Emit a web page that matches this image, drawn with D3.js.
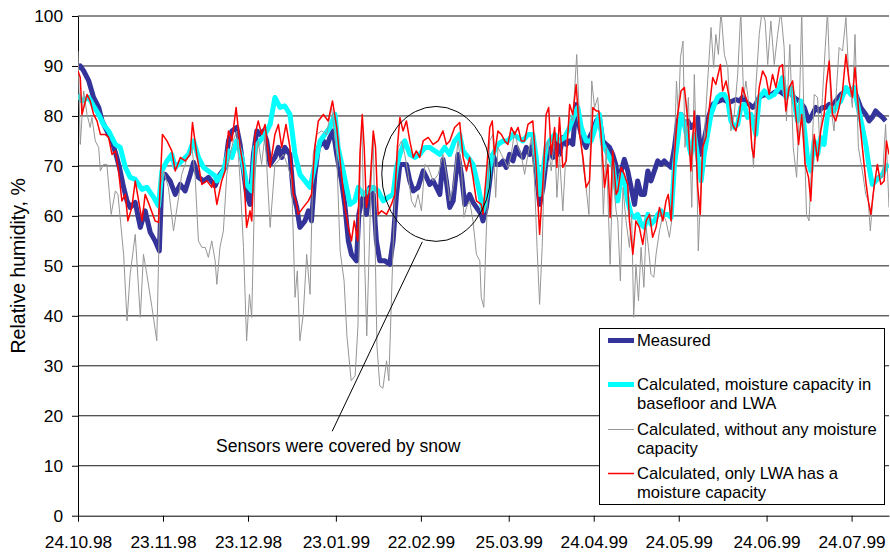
<!DOCTYPE html>
<html>
<head>
<meta charset="utf-8">
<script src="https://cdn.jsdelivr.net/npm/d3@7/dist/d3.min.js"></script>
<style>
  body { margin: 0; background: #fff; }
  svg { display: block; font-family: "Liberation Sans", Arial, sans-serif; }
</style>
</head>
<body>
<svg></svg>
<script>
// days are counted from the first date on the x axis
let startDate = '24.10.98'
let endDay = 286.2
let xTickLabels = ['24.10.98', '23.11.98', '23.12.98', '23.01.99', '22.02.99', '25.03.99', '24.04.99', '24.05.99', '24.06.99', '24.07.99']
let yTickValues = [0, 10, 20, 30, 40, 50, 60, 70, 80, 90, 100]

let seriesNames = ['Measured', 'Calculated, moisture capacity in basefloor and LWA', 'Calculated, without any moisture capacity', 'Calculated, only LWA has a moisture capacity']

let measured = [[0,89.5],[0.8,90],[2,89],[3.8,87],[5.5,83.7],[7.3,81.7],[8.5,79],[10.2,77],[12,75],[13.7,71.7],[14.9,69],[16.1,65.7],[17.3,63],[18.4,61.7],[20.2,62.7],[22,57.7],[23.7,61],[25.5,56.7],[27.2,55],[28.7,53],[29.6,67],[30.8,68.3],[32.5,67],[34.3,64.3],[36.1,66.3],[37.8,65],[39.6,68.3],[40.8,70.7],[42.5,67.7],[44.3,67],[46,67.7],
  [48.4,66],[50.1,68.3],[51.9,69.7],[53.1,75],[54.3,77],[56,77.7],[57.2,74.3],[58.4,69],[59.5,64.3],[60.7,62.3],[61.9,72.3],[63.1,77],[64.2,76.3],[65.4,77],[66.6,75],[67.8,70.3],[69.5,71.7],[70.7,73.7],[71.9,71.7],[73,73.7],[74.8,72.3],[76,64.3],[77.2,61.7],[78.3,57.7],[80.1,59],[81.3,61],[82.4,59],[83.6,68.3],[84.8,73.7],[86.6,75],[87.7,73.7],[88.9,75.7],[90.1,77],[91.3,72.3],[93,67],[94.2,62],
  [95.4,55],[96.5,52.3],[98.3,51],[99.1,60.3],[100.1,63],[101,64.3],[101.8,60.3],[103,65.7],[104.2,64.3],[105.3,55],[106.5,51],[108.3,51],[110,50.3],[111.2,55],[112.4,64.3],[113.6,70.3],[114.7,70.3],[115.9,70.3],[117.1,67],[118.3,65],[120,65.7],[121.8,69],[123,67.7],[124.1,66.3],[125.3,67],[126.5,65.7],[127.7,64.3],[128.8,71.3],[130,67],[131.2,61.7],[132.4,63],[134.1,72.3],[135.3,68.3],[136.5,62.3],[138.2,64.3],[139.4,62.7],[140.6,61.7],[142.3,60.3],
  [142.9,59],[144.1,61.7],[145.3,67],[146.4,72.3],[147.6,70.3],[148.8,70.3],[150,71],[151.1,69.7],[152.3,72.3],[153.5,71],[154.7,73.7],[155.8,72.3],[157,71.7],[158.2,73.7],[159.4,72.3],[160.5,74.3],[161.7,69],[162.9,62.3],[164.1,65.7],[165.2,71],[166.4,73.7],[167.6,71.7],[168.8,75],[169.9,72.3],[171.1,75.7],[172.3,74.3],[173.5,75],[174.6,74.3],[175.8,82.3],[177,77.7],[178.2,75],[179.3,73.7],[180.5,75.7],[181.7,77],[182.9,79],[184,79.7],[185.2,75],[186.4,74.3],[187.6,73.7],[188.7,72.3],[189.9,70],
  [190.5,65.7],[191.7,69],[192.8,71.3],[194,69],[195.2,65.7],[196.4,62.3],[197.5,67],[198.7,64.3],[199.9,64.3],[201.1,69],[202.2,67],[203.4,69],[204.6,71],[205.8,70.3],[206.9,71],[208.1,70.3],[209.3,69.7],[210.5,73.7],[211.6,79],[212.8,80.3],[214,78.3],[215.2,79],[216.3,77.7],[217.5,78.3],[218.7,79.7],[219.6,72.3],[220.4,73.7],[221.6,77],[222.8,80.3],[224,82.3],[225.1,82.7],[226.3,83],[227.5,83.3],[228.7,83],[229.8,82.7],[231,83],[232.2,83.3],[233.4,83],[234.5,83.7],[235.7,82.7],[236.9,82.3],
  [238.1,81.7],[239.2,82.3],[240.4,83.7],[242.2,84.3],[243.9,84],[245.7,84.7],[247.5,85],[249.2,84.3],[251,85],[252.7,83.7],[254.5,83],[256.3,81.7],[257.8,79],[259.2,80.3],[260.4,81.7],[261.6,81],[262.7,81.7],[263.9,81.7],[265.1,82.3],[266.3,81.7],[267.4,83],[269.2,84.3],[271,85],[272.7,85.3],[274.5,84.3],[276.2,81.7],[278,80.3],[279.2,79],[280.3,79.7],[281.5,81],[282.7,80.3],[283.9,79.7],[285,79]]

let calcBoth = [[0,84.3],[1.4,83],[3.8,83.7],[5.5,82],[7.3,80.3],[9,78.3],[10.8,77],[13.2,74.3],[14.9,73.7],[16.7,69.7],[18.4,67.7],[20.2,67.3],[22.6,65.3],[24.3,65.7],[26.7,63.7],[28.4,62],[29.6,69],[31.4,71],[33.1,72.3],[34.3,69.7],[36.6,71],[39,72.3],[40.8,75],[42.5,71.7],[44.3,69.7],[46,69],
  [48.4,68],[49,67],[51.3,69],[53.1,73],[54.3,71.7],[56,75],[57.8,71.7],[59.5,66.3],[61.3,65],[62.5,73.7],[64.2,75],[66,76.3],[67.8,78.3],[69.5,83.7],[71.3,81.7],[73,82],[74.8,80.3],[76.6,72.3],[78.3,68.3],[80.1,67],[81.9,65.7],[83.6,70.3],[85.4,75],[87.1,76.3],[88.9,77.7],[90.7,80.3],[91.8,73.7],[93.6,69],
  [96,62.3],[97.7,63],[98.9,65.7],[100.7,64.3],[102.4,65],[104.2,65.7],[105.9,65],[107.7,63],[109.5,63.7],[111.2,64.3],[112.4,69.7],[113.6,72.3],[115.3,75],[117.1,72.3],[118.9,71.7],[120.6,72.3],[122.4,73.7],[124.1,73.7],[125.9,73],[127.7,72.3],[129.4,73.7],[131.2,72.3],[132.9,75],[134.7,76.3],[135.9,73],[137.7,71.7],[139.4,70.3],[141.2,66],
  [142.9,61],[144.1,63.7],[145.3,69.7],[146.4,72.3],[148.2,74.3],[150,75],[151.7,75],[153.5,76.3],[155.3,75.7],[157,75],[158.8,76.3],[160.5,76.3],[161.7,71.7],[162.9,64.3],[164.1,69],[165.2,73.7],[166.4,75],[168.2,76.3],[169.9,75],[171.7,75.7],[173.5,77.7],[175.2,80.3],[176.4,81.7],[177.6,77.7],[179.3,75],[181.1,75],[182.9,78.3],[184,80.3],[185.2,74.3],[187,72.3],[188.7,70.3],
  [190.5,63],[191.7,68.3],[192.8,67],[194,63],[195.2,60.3],[196.4,59.7],[197.5,60.3],[198.7,58.3],[199.9,57.7],[201.1,60.3],[202.2,58.3],[203.4,59],[204.6,60.3],[205.8,61],[206.9,60.3],[208.1,60.3],[209.3,59.7],[210.5,70.3],[211.6,75],[212.8,80.3],[214,78.3],[215.2,75],[216.3,72.3],[217.5,76.3],[218.7,71.7],[219.9,67],[221,72.3],[222.2,76.3],[223.4,80.3],[224.6,82.3],[225.7,83.7],[226.9,84.3],[228.1,84.3],[229.3,83],[230.4,79],[231.6,77.7],[232.8,78.3],[233.9,81.7],[235.1,82.3],[236.3,79.7],[237.5,80.3],
  [239.2,76.3],[240.4,83.7],[242.2,85],[243.9,83.7],[245.7,84.3],[247.5,85.7],[248.6,87.7],[249.8,83.7],[251.6,85.7],[252.7,83],[253.9,79],[255.1,83],[256.3,77.7],[257.4,71.7],[258.6,69],[259.8,75],[261,72.3],[262.1,75.7],[263.3,74.3],[264.5,80.3],[265.7,81.7],[266.8,81],[268,82.3],[269.2,83],[271,85.7],[272.7,84.3],[273.9,85.7],[275.1,82.3],[276.8,77.7],[278,74.3],[279.2,69.7],[280.3,66.3],[281.5,67],[282.7,67.7],[283.9,68.3],[285,69.7],[286.2,70.3]]

let calcNone = [[0,93],[0.8,74.3],[2,85],[3.2,80.3],[4.3,77.7],[4.9,79.7],[6.1,75],[7.3,73.7],[7.9,69],[9,70.3],[10.2,70.3],[11.7,60.3],[13.2,65],[14.1,64.3],[16.1,52.3],[17.3,39],[18.4,48.3],[20.2,56.3],[22,39.7],[23.1,52.3],[24.3,48.3],[26.1,41.7],[27.8,35],[29,65.7],[30.2,69],[31.9,65.7],[33.7,57],[35.5,63.7],[36.6,68.3],[39,72.3],[40.2,73.7],[41.3,68.3],[42.5,55],[43.7,53.7],[44.9,53.7],[46,51.7],[47.2,55],[48.4,51],
  [49,46.3],[50.1,53.7],[51.3,57],[52.5,68.3],[53.7,72.3],[54.8,75],[56,77],[57.2,67],[58.4,53.7],[59.5,35],[60.5,44.3],[61.3,39.7],[62.5,69],[63.6,75],[64.8,70.3],[66,76.3],[67.8,57.7],[69.5,70.3],[70.7,71],[72.5,72.3],[74.2,69.7],[75.4,67],[76.6,43.7],[77.4,49],[78.3,35],[79.5,40.3],[80.7,52.3],[81.9,44.3],[83,72.3],[84.2,76.3],[86,77],[87.7,76.3],[89.5,81.7],[91.3,72.3],
  [92.5,53],[93.9,47],[94.9,36],[96.4,27],[97.8,28],[98.8,38],[99.7,74],[100.2,78],[101.1,52],[101.9,36],[102.7,52],[103.4,66],[104.2,76],[104.8,56],[105.5,34],[106.5,26],[107.6,25.5],[108.9,31],[109.7,27],[110.7,45],
  [111.2,53.7],[111.8,63],[113,73.7],[114.2,75],[115.3,72.3],[116.5,68.3],[117.7,63],[118.9,61.7],[120,64.3],[121.2,61],[122.4,70.3],[123.6,69.7],[125.3,67],[127.1,68.3],[128.8,72.3],[130,68.3],[131.2,63],[132.4,65.7],[134.1,75],[135.3,69.7],[136.2,59.7],[137.1,61.7],[138.2,63],[139.4,59],[140.6,52.3],[141.8,51],
  [142.3,43.7],[143.2,41.7],[144.1,57],[145.3,75],[146.4,76.3],[147.4,63.7],[148.2,73.7],[149.4,72.3],[150.6,71],[151.7,69.7],[152.9,72.3],[154.1,77],[155.3,73.7],[156.4,72.3],[157.6,68.3],[158.8,72.3],[160,75.7],[161.1,67],[162,53.7],[162.9,42.3],[163.8,53.7],[164.7,72.3],[165.8,75],[167,69],[168.2,76.3],[169,63.7],[169.9,72.3],[171.1,61],[172.3,73.7],[173.5,80.3],[174.6,79],[176,92.3],[177,79],[178.2,70.3],[179.3,65.7],[180.3,60.3],[181.3,87],[182.3,81.7],[183.4,83.7],[184.6,75],[185.4,60.3],[186.4,73.7],[187.8,50.3],[188.7,68.3],
  [189.9,61],[190.5,59],[191.4,47],[192.3,65.7],[193.4,59],[194.6,53.7],[195.4,60.3],[196.1,39.7],[196.9,50.3],[197.8,43],[198.7,53.7],[199.7,45.7],[200.5,57.7],[201.3,53.7],[202.2,48.3],[203.2,47.7],[204,52.3],[205.2,57],[206.4,60.3],[207.5,59],[208.7,55.7],[209.5,59],[210.5,73.7],[211.2,87],[211.9,79.7],[212.6,91.7],[213.5,95],[214.2,73.7],[215.4,83.7],[216.6,61.7],[217.5,88.3],[218.4,68.3],[218.9,53],[219.9,67],[221,75.7],[222.2,87],[223.4,97.7],[224.3,89.7],[225.1,96.3],[226,92.3],[226.9,101],[228.1,92.3],[229.3,89.7],[230.4,77],[231.6,80.3],[232.8,88.3],[233.9,101],[234.9,83.7],[235.7,87],[236.9,81.7],
  [237.7,75],[238.4,69.7],[239.2,85.7],[240.4,96.3],[241.4,101],[242.5,99],[243.4,90.3],[244.5,99],[245.7,90.3],[246.9,96.3],[248,101],[249.2,93.7],[250,79],[251.2,94.3],[252.4,73.7],[253.6,67.7],[254.5,80.3],[255.4,101],[256.4,73.7],[257.1,60.3],[258,59],[259,72.3],[259.8,84.3],[261,83.7],[261.8,73.7],[262.7,83.7],[263.7,93.7],[264.5,101],[265.7,81.7],[266.8,77],[267.7,85.7],[268.6,93.7],[269.8,93],[271,99.7],[272.1,87],[273.3,81.7],[274.2,96.3],[275.4,73.7],[276.8,69],[278,64.3],[278.9,63],[279.6,57],[280.6,64.3],[281.5,67.7],[282.7,68.3],[283.9,67.7],[285,78.3],[286.2,61.7]]

let calcLwa = [[0,89],[0.8,87.7],[1.4,80.3],[3.2,84.3],[4.3,83],[5.5,80.3],[6.7,79],[7.9,76.3],[9.6,76.3],[10.8,75.7],[12,72.3],[13.2,73],[14.3,69],[15.5,63],[16.7,64.3],[17.6,59],[19,61.7],[20.2,67],[21.4,63],[22.6,59],[23.7,64.3],[25.1,62.3],[27.2,59],[28.4,58.7],[29.8,76.3],[31.4,75],[33.1,73],[34.3,69],[36.1,71.7],[37.8,71],[39.6,72.3],[40.4,78.7],[41.9,72.3],[43.7,66.3],[45.5,67],[47.2,65.7],
  [47.8,67],[49,62.3],[50.7,67],[51.9,69],[53.1,77],[54.3,75],[55.8,81.7],[57.2,73.7],[58.4,69.7],[59.5,57.7],[60.7,61],[61.3,59],[62.5,76.3],[63.6,79],[64.8,76.3],[66,78.3],[67.8,69.7],[69.5,76.3],[70.7,78.3],[71.9,73.7],[73.4,78.3],[74.8,73.7],[76,64.3],[76.9,63],[77.7,60.3],[79.5,61.7],[81.3,63],[82.4,64.3],[83.6,73.7],[84.8,79],[86.6,80.3],[88.3,79],[89.8,83],[91.3,77.7],[93,68.3],[94.2,61.7],
  [95.4,57.7],[96.5,55],[97.5,59],[98.7,55],[99.5,72.3],[100.3,80.3],[101,73.7],[101.8,61.7],[103,65.7],[104.2,77],[105,73.7],[105.9,60.3],[107.1,61],[108.9,60.3],[110.6,62.3],[111.8,64.3],[112.7,73.7],[113.6,79.7],[114.7,77],[115.9,79],[117.1,75],[118.3,71.7],[119.4,73],[120.6,71.7],[121.8,75],[123.6,75.7],[125.3,74.3],[127.1,75],[128.8,77],[130,74.3],[131.2,75],[132.9,77.7],[134.7,78.7],[135.9,71.7],[137.1,69],[138.2,71.7],[139.4,67.7],[140.6,63],[142.3,62.3],
  [142.9,60.3],[144.1,68.3],[145.3,77.7],[146.2,79],[147,72.3],[148.2,77],[149.4,76.3],[150.6,75],[151.7,74.3],[152.9,77.7],[154.1,76.3],[155.3,77.7],[156.4,75],[157.6,75],[158.8,78.3],[160.5,79],[161.7,69.7],[162.9,56.3],[164.1,67],[165.2,80.3],[166.1,81.7],[167,72.3],[168.2,77.7],[169,69.7],[169.9,79.7],[171.1,69.7],[172.3,71],[173.5,82.3],[174.6,80.3],[175.8,86.3],[177,76.3],[178.2,71.7],[179.3,65.7],[180.5,67],[181.7,81.7],[182.9,81],[183.8,81],[184.6,76.3],[185.8,65.7],[187,70.3],[187.8,59.7],[188.7,73],[189.9,64.3],
  [190.5,65],[191.7,69.7],[192.8,68.3],[194,66.3],[194.6,59],[195.8,52.3],[196.9,59],[198.1,57.7],[199.3,54.3],[200.5,59],[201.7,60.3],[202.8,55.7],[204,57.7],[205.2,61.7],[206.4,59],[207.5,63],[208.3,64.3],[209.3,59],[210.5,72.3],[211.6,80.3],[212.8,85],[214,85.7],[215.2,79],[216.3,69],[217.5,81],[218.7,65.7],[219.6,60.3],[220.4,73.7],[221.6,75.7],[222.8,81.7],[224,87.7],[225.1,86.3],[226.7,90.3],[227.5,85],[228.7,87],[229.8,83.7],[231,78.3],[232.2,77],[233.4,80.3],[234.5,85.7],[235.7,83.7],[236.9,81.7],
  [237.8,73.7],[238.5,71.7],[239.5,80.3],[240.4,85.7],[241.6,89],[242.8,87.7],[243.9,84.3],[245.1,88.3],[246.3,85.7],[247.5,89.7],[248.6,90.3],[249.8,81],[251,85.7],[252.2,87],[253.3,80.3],[254.3,74.3],[255.4,80.3],[256.6,70.3],[257.8,67.7],[258.6,63],[259.8,76.3],[261,71],[262.1,77],[263.3,80.3],[264.1,86.3],[265.1,91],[266.3,80.3],[267.4,79],[268.6,81.7],[269.8,85],[271,92.3],[272.1,87],[273.3,83.7],[274.2,89.7],[275.6,80.3],[276.8,73.7],[278,67],[278.9,63],[279.8,60.3],[280.9,65.7],[282.1,70.3],[283.3,66.3],[284.5,67],[285.3,75],[286.2,72.3]]

// annotation, in data units (day, %)
let noteText = 'Sensors were covered by snow'
let noteAt = [48.7, 12.8]
let snowCircle = { day: 126.4, value: 68.4, rDays: 19.2, rValue: 13.5 }
let pointerFrom = [121.5, 54.8]
let pointerTo = [89.7, 16.9]

let width = 890
let height = 555
let plotLeft = 78
let plotRight = 889
let plotTop = 16
let plotBottom = 515.7

let svg = d3.select('svg')
  .attr('width', width)
  .attr('height', height)

let parseDate = d3.timeParse('%d.%m.%y')
let start = parseDate(startDate)
let dayToDate = (d) => new Date(start.getTime() + d * 86400000)

let xScale = d3.scaleTime()
  .domain([start, dayToDate(endDay)])
  .range([plotLeft, plotRight])

let yScale = d3.scaleLinear()
  .domain([0, 100])
  .range([plotBottom, plotTop])

let px = (d) => xScale(dayToDate(d))

// grid
svg.append('g')
  .selectAll('line')
  .data(yTickValues.filter((v) => v > 0))
  .enter()
  .append('line')
  .attr('x1', plotLeft)
  .attr('x2', plotRight)
  .attr('y1', (v) => yScale(v))
  .attr('y2', (v) => yScale(v))
  .attr('stroke', '#1a1a1a')
  .attr('stroke-width', 1)

// axes
let xAxis = d3.axisBottom(xScale)
  .tickValues(xTickLabels.map(parseDate))
  .tickFormat(d3.timeFormat('%d.%m.%y'))
  .tickSize(6)
  .tickSizeOuter(0)
  .tickPadding(14)

let yAxis = d3.axisLeft(yScale)
  .tickValues(yTickValues)
  .tickSize(6)
  .tickSizeOuter(0)
  .tickPadding(9)

svg.append('g')
  .attr('transform', 'translate(0,' + plotBottom + ')')
  .call(xAxis)
  .call((g) => g.selectAll('text').style('font-size', '17.3px').attr('fill', '#000'))

svg.append('g')
  .attr('transform', 'translate(' + plotLeft + ',0)')
  .call(yAxis)
  .call((g) => g.selectAll('text').style('font-size', '17.3px').attr('fill', '#000'))

svg.selectAll('.domain, .tick line').attr('stroke', '#000')

svg.append('text')
  .attr('transform', 'translate(24.5,' + ((plotTop + plotBottom) / 2) + ') rotate(-90)')
  .attr('text-anchor', 'middle')
  .style('font-size', '19.5px')
  .text('Relative humidity, %')

// lines
svg.append('clipPath')
  .attr('id', 'plot-clip')
  .append('rect')
  .attr('x', plotLeft)
  .attr('y', plotTop)
  .attr('width', plotRight - plotLeft)
  .attr('height', plotBottom - plotTop)

let line = d3.line()
  .x((d) => px(d[0]))
  .y((d) => yScale(d[1]))

let series = [
  { values: measured, color: '#333399', width: 5 },
  { values: calcBoth, color: '#00FFFF', width: 5 },
  { values: calcNone, color: '#969696', width: 1 },
  { values: calcLwa, color: '#FF0000', width: 1.5 }
]

svg.append('g')
  .attr('clip-path', 'url(#plot-clip)')
  .selectAll('path')
  .data(series)
  .enter()
  .append('path')
  .attr('d', (s) => line(s.values))
  .attr('fill', 'none')
  .attr('stroke', (s) => s.color)
  .attr('stroke-width', (s) => s.width)
  .attr('stroke-linejoin', 'round')

// snow note
svg.append('ellipse')
  .attr('cx', px(snowCircle.day))
  .attr('cy', yScale(snowCircle.value))
  .attr('rx', px(snowCircle.day + snowCircle.rDays) - px(snowCircle.day))
  .attr('ry', yScale(0) - yScale(snowCircle.rValue))
  .attr('fill', 'none')
  .attr('stroke', '#000')
  .attr('stroke-width', 1)

svg.append('line')
  .attr('x1', px(pointerFrom[0]))
  .attr('y1', yScale(pointerFrom[1]))
  .attr('x2', px(pointerTo[0]))
  .attr('y2', yScale(pointerTo[1]))
  .attr('stroke', '#000')
  .attr('stroke-width', 1)

svg.append('text')
  .attr('x', px(noteAt[0]))
  .attr('y', yScale(noteAt[1]))
  .style('font-size', '17.6px')
  .text(noteText)

// legend
let legendLines = [
  ['Measured'],
  ['Calculated, moisture capacity in', 'basefloor and LWA'],
  ['Calculated, without any moisture', 'capacity'],
  ['Calculated, only LWA has a', 'moisture capacity']
]
let legendRowY = [340.5, 384.5, 429.5, 473.5]

let legend = svg.append('g')

legend.append('rect')
  .attr('x', 599.5)
  .attr('y', 328.5)
  .attr('width', 285)
  .attr('height', 176)
  .attr('fill', '#fff')
  .attr('stroke', '#000')
  .attr('stroke-width', 1)

series.forEach((s, i) => {
  legend.append('line')
    .attr('x1', 608)
    .attr('x2', 634)
    .attr('y1', legendRowY[i])
    .attr('y2', legendRowY[i])
    .attr('stroke', s.color)
    .attr('stroke-width', s.width)

  legend.append('text')
    .attr('x', 637)
    .attr('y', legendRowY[i] + 5.8)
    .style('font-size', '16.6px')
    .attr('data-name', seriesNames[i])
    .selectAll('tspan')
    .data(legendLines[i])
    .enter()
    .append('tspan')
    .attr('x', 637)
    .attr('dy', (t, j) => j === 0 ? 0 : 18.5)
    .text((t) => t)
})
</script>
</body>
</html>
